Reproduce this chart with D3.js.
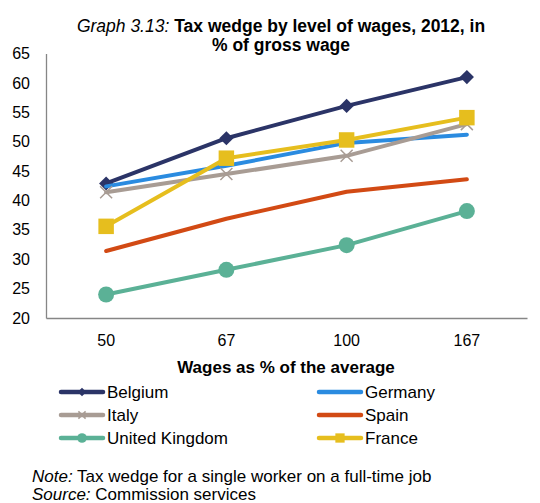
<!DOCTYPE html>
<html>
<head>
<meta charset="utf-8">
<script src="https://cdn.jsdelivr.net/npm/d3@7"></script>
<style>
  body { margin: 0; background: #fff; }
  text { font-family: "Liberation Sans", Arial, sans-serif; fill: #000; }
</style>
</head>
<body>
<div id="chart"></div>
<script>
// data
var wageLevels = ["50", "67", "100", "167"];
var belgium = [42.9, 50.6, 56.1, 61.0];
var germany = [42.4, 45.9, 49.8, 51.2];
var italy   = [41.4, 44.5, 47.6, 53.0];
var spain   = [31.4, 36.9, 41.5, 43.6];
var uk      = [24.0, 28.2, 32.4, 38.2];
var france  = [35.6, 47.2, 50.3, 54.1];
var yTicks  = [20, 25, 30, 35, 40, 45, 50, 55, 60, 65];

var series = [
  {name: "Belgium",        values: belgium, color: "#2b3467", marker: "diamond"},
  {name: "Germany",        values: germany, color: "#2a8be0", marker: "none"},
  {name: "Italy",          values: italy,   color: "#a89c94", marker: "x"},
  {name: "Spain",          values: spain,   color: "#d24a14", marker: "none"},
  {name: "United Kingdom", values: uk,      color: "#5bb196", marker: "circle"},
  {name: "France",         values: france,  color: "#e6be1e", marker: "square"}
];

var width = 540, height = 503;
var plotLeft = 46, plotRight = 527, plotTop = 53.6, plotBottom = 318;

var svg = d3.select("#chart").append("svg")
    .attr("width", width)
    .attr("height", height);

var x = d3.scaleBand().domain(wageLevels).range([plotLeft, plotRight]);
var y = d3.scaleLinear().domain([20, 65]).range([plotBottom, plotTop]);

// title
var title = svg.append("text").attr("x", 281).attr("y", 32)
    .attr("text-anchor", "middle").style("font-size", "17.5px");
title.append("tspan").style("font-style", "italic").text("Graph 3.13: ");
title.append("tspan").style("font-weight", "bold").text("Tax wedge by level of wages, 2012, in");
svg.append("text").attr("x", 281).attr("y", 51)
    .attr("text-anchor", "middle").style("font-size", "17.5px").style("font-weight", "bold")
    .text("% of gross wage");

// axes
var yAxis = svg.append("g").attr("transform", "translate(" + plotLeft + ",0)")
    .call(d3.axisLeft(y).tickValues(yTicks).tickSize(0).tickPadding(16));
var xAxis = svg.append("g").attr("transform", "translate(0," + plotBottom + ")")
    .call(d3.axisBottom(x).tickSize(0).tickPadding(17));
[xAxis, yAxis].forEach(function(a) {
  a.select(".domain").attr("stroke", "#868686").attr("stroke-width", 1.3);
  a.selectAll("text").style("font-size", "16px").attr("fill", "#000");
});

svg.append("text").attr("x", 286).attr("y", 373)
    .attr("text-anchor", "middle").style("font-size", "17px").style("font-weight", "bold")
    .text("Wages as % of the average");

// lines
var line = d3.line()
    .x(function(d, i) { return x(wageLevels[i]) + x.bandwidth() / 2; })
    .y(function(d) { return y(d); });

function drawMarker(g, type, color, cx, cy, scale) {
  if (type === "diamond") {
    g.append("path").attr("d", d3.symbol(d3.symbolSquare, 100 * scale * scale)())
      .attr("transform", "translate(" + cx + "," + cy + ") rotate(45)").attr("fill", color);
  } else if (type === "square") {
    g.append("path").attr("d", d3.symbol(d3.symbolSquare, 240 * scale * scale)())
      .attr("transform", "translate(" + cx + "," + cy + ")").attr("fill", color);
  } else if (type === "circle") {
    g.append("circle").attr("cx", cx).attr("cy", cy).attr("r", 8 * scale).attr("fill", color);
  } else if (type === "x") {
    var s = 6 * scale;
    g.append("path").attr("d", "M" + (cx - s) + "," + (cy - s) + "L" + (cx + s) + "," + (cy + s) +
        "M" + (cx - s) + "," + (cy + s) + "L" + (cx + s) + "," + (cy - s))
      .attr("stroke", color).attr("stroke-width", 1.5).attr("fill", "none");
  }
}

series.forEach(function(s) {
  var g = svg.append("g");
  g.append("path").datum(s.values)
    .attr("d", line)
    .attr("fill", "none")
    .attr("stroke", s.color)
    .attr("stroke-width", 4)
    .attr("stroke-linecap", "round")
    .attr("stroke-linejoin", "round");
  s.values.forEach(function(v, i) {
    drawMarker(g, s.marker, s.color, x(wageLevels[i]) + x.bandwidth() / 2, y(v), 1);
  });
});

// legend
var legend = svg.append("g");
series.forEach(function(s, i) {
  var col = i % 2, row = Math.floor(i / 2);
  var lx = col === 0 ? 61 : 319;
  var ly = 392 + row * 23;
  legend.append("line").attr("x1", lx).attr("x2", lx + 42).attr("y1", ly).attr("y2", ly)
    .attr("stroke", s.color).attr("stroke-width", 4.5).attr("stroke-linecap", "round");
  drawMarker(legend, s.marker, s.color, lx + 21, ly, 0.6);
  legend.append("text").attr("x", lx + 46).attr("y", ly).attr("dy", "0.35em")
    .style("font-size", "17px").text(s.name);
});

// footnotes
var note = svg.append("text").attr("x", 32).attr("y", 482).style("font-size", "17px");
note.append("tspan").style("font-style", "italic").text("Note:");
note.append("tspan").text(" Tax wedge for a single worker on a full-time job");
var src = svg.append("text").attr("x", 32).attr("y", 500).style("font-size", "17px");
src.append("tspan").style("font-style", "italic").text("Source:");
src.append("tspan").text(" Commission services");
</script>
</body>
</html>
